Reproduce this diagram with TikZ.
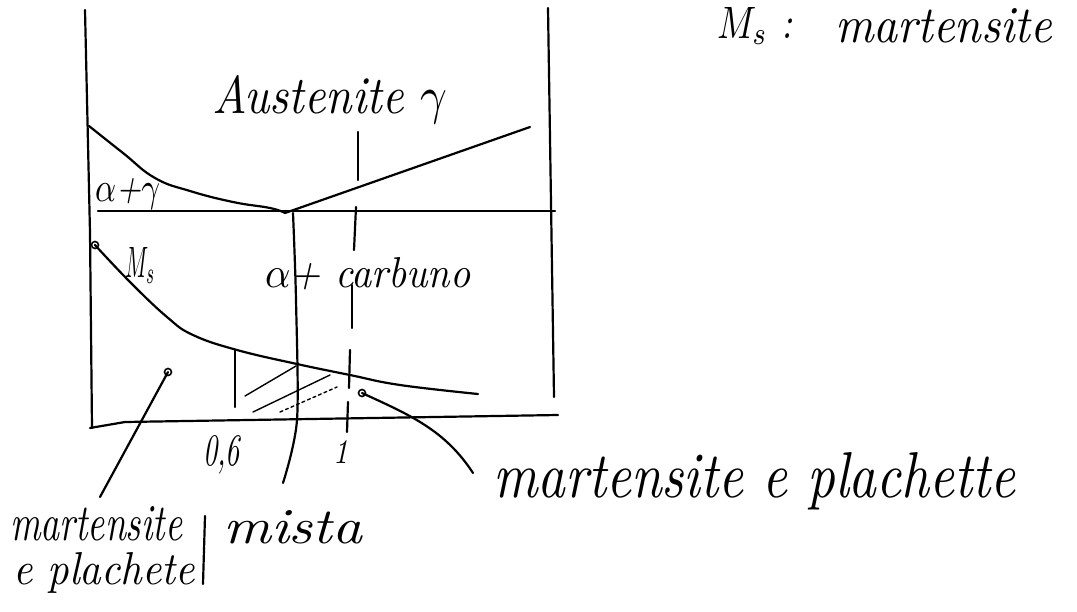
\documentclass[tikz,border=0pt]{standalone}
\usepackage{graphicx}
\newcommand\hw[3]{\resizebox{#1}{#2}{\itshape #3}}
\begin{document}
\begin{tikzpicture}[x=1pt,y=-1pt,
  ink/.style={line width=2.2pt,line cap=round,line join=round,black},
  thin ink/.style={line width=1.4pt,line cap=round,black},
  lbl/.style={inner sep=0pt,anchor=base west},
  loopmark/.style={line width=1.6pt,black}]
\useasboundingbox (0,0) rectangle (1077,611);
% axes and frame
\draw[ink] (85,10) -- (90,233) -- (92,428);
\draw[ink] (548,8) -- (554,397);
\draw[ink] (90,428) -- (125,422) -- (558,415);
% eutectoid horizontal
\draw[ink] (98,211) -- (555,211);
% A3 curve and Acm line
\coordinate (eut) at (285,213);
\draw[ink] plot[smooth,tension=0.75] coordinates {(89,126) (123,153) (155,178) (190,191) (233,202) (270,208) (285,213)};
\draw[ink] (eut) -- (530,127);
% Ms curve
\draw[ink] plot[smooth,tension=0.7] coordinates {(95,245) (130,282) (167,317) (193,335) (237,350) (297,364) (350,375) (400,385) (478,394)};
\draw[loopmark] (95,245) circle (3.5);
% dashed mark at 1
\draw[ink] (358,132) -- (358,180);
\draw[ink] (356,207) -- (354,250);
\draw[ink] (352,285) -- (352,328);
\draw[ink] (350,350) -- (349,388);
\draw[ink] (348,402) -- (347,432);
% short vertical and hatching
\draw[ink] (235,350) -- (235,407);
\draw[thin ink] (245,396) -- (296,366);
\draw[thin ink] (253,412) -- (330,375);
\draw[thin ink,dashed] (280,412) -- (337,387);
% vertical from eutectoid, continuing as leader to "mista"
\coordinate (mistaend) at (283,483);
\draw[ink] plot[smooth,tension=0.5] coordinates {(293,213) (296,300) (297,420) (mistaend)};
% leaders
\coordinate (lp) at (168,372);
\coordinate (lpend) at (100,497);
\draw[loopmark] (lp) circle (3.5);
\draw[ink] (lp) -- (lpend);
\coordinate (rp) at (362,393);
\coordinate (rpend) at (473,473);
\draw[loopmark] (rp) circle (3.5);
\draw[ink] (rp) .. controls (410,415) and (445,430) .. (rpend);
% separator bar in bottom-left label
\draw[ink] (205,516) -- (203,584);
% labels
\node[lbl] (aust) at (212,113) {\hw{235pt}{38pt}{Austenite $\gamma$}};
\node[lbl] (msdef) at (717,38) {\hw{75pt}{31pt}{$M_s$ :}};
\node[lbl] (msmart) at (835,42) {\hw{217pt}{34pt}{martensite}};
\node[lbl] (ag) at (95,201) {\hw{65pt}{23pt}{$\alpha$+$\gamma$}};
\node[lbl] (ms) at (125,277) {\hw{30pt}{30pt}{$M_s$}};
\node[lbl] (ac) at (265,287) {\hw{205pt}{30pt}{$\alpha$+ carbuno}};
\node[lbl] (x06) at (203,465) {\hw{37pt}{30pt}{0,6}};
\node[lbl] (x1) at (333,463) {\hw{15pt}{23pt}{1}};
\node[lbl] (mp) at (493,497) {\hw{522pt}{45pt}{martensite e plachette}};
\node[lbl] (mart) at (10,540) {\hw{172pt}{34pt}{martensite}};
\node[lbl] (mista) at (223,543) {\hw{139pt}{33pt}{mista}};
\node[lbl] (epl) at (13,584) {\hw{182pt}{32pt}{e plachete}};
\end{tikzpicture}
\end{document}
